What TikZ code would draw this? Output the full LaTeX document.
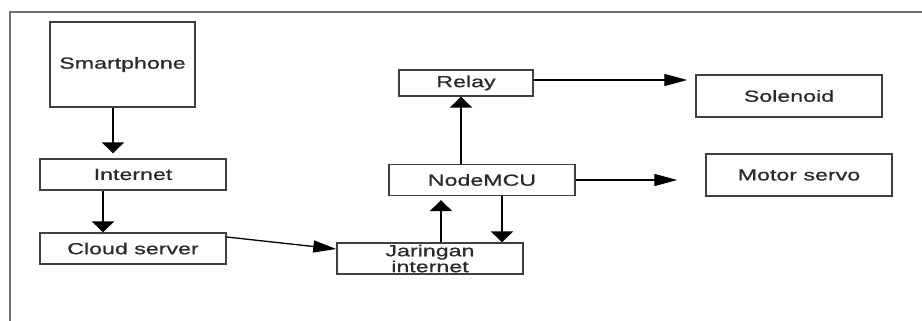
\documentclass[tikz,border=0pt]{standalone}
\usepackage{fontspec}
\newfontfamily\dfont[FakeStretch=1.45,FakeBold=0.8]{Liberation Sans}
\usetikzlibrary{arrows.meta}
\definecolor{boxline}{HTML}{404040}
\definecolor{frameline}{HTML}{707070}
\definecolor{txt}{HTML}{2A2A2A}
\begin{document}
\begin{tikzpicture}[x=1pt,y=-1pt,
  blk/.style={draw=boxline,line width=1.4pt,inner sep=0pt,text=txt,
    font=\dfont\fontsize{16}{14}\selectfont,align=center},
  thickarr/.style={line width=2.8pt,-{Triangle[length=11pt,width=22pt]}},
  thinarr/.style={line width=1.3pt,-{Triangle[length=23pt,width=12pt]}}]
\useasboundingbox (0,0) rectangle (922,321);
\draw[frameline,line width=1.5pt] (10,321) -- (10,12) -- (922,12);
\node[blk,minimum width=145,minimum height=85] (sp) at (122.5,64.5) {Smartphone};
\node[blk,minimum width=186,minimum height=31] (inet) at (133,174.5) {Internet};
\node[blk,minimum width=186,minimum height=31] (cloud) at (133,248.5) {Cloud server};
\node[blk,minimum width=186,minimum height=31] (jar) at (430,258.5) {Jaringan\\internet};
\node[blk,minimum width=186,minimum height=31] (mcu) at (482,180) {NodeMCU};
\node[blk,minimum width=134,minimum height=26] (relay) at (466,83) {Relay};
\node[blk,minimum width=186,minimum height=42] (sol) at (789,96) {Solenoid};
\node[blk,minimum width=186,minimum height=42] (servo) at (799,175) {Motor servo};
\draw[thickarr,shorten >=5pt] ([xshift=-9.5]sp.south) -- ([xshift=-9.5]sp.south |- inet.north);
\draw[thickarr] ([xshift=-30]inet.south) -- ([xshift=-30]inet.south |- cloud.north);
\draw[thinarr] ([yshift=11.5]cloud.east) -- ([yshift=9.5]jar.west);
\draw[thickarr,shorten >=4pt] ([xshift=11]jar.north) -- ([xshift=11]jar.north |- mcu.south);
\draw[thickarr] ([xshift=20]mcu.south) -- ([xshift=20]mcu.south |- jar.north);
\draw[thickarr] ([xshift=-21]mcu.north) -- ([xshift=-21]mcu.north |- relay.south);
\draw[thinarr,shorten >=8pt] ([yshift=3]relay.east) -- ([yshift=3]relay.east -| sol.west);
\draw[thinarr,shorten >=28pt] (mcu.east) -- (mcu.east -| servo.west);
\end{tikzpicture}
\end{document}
